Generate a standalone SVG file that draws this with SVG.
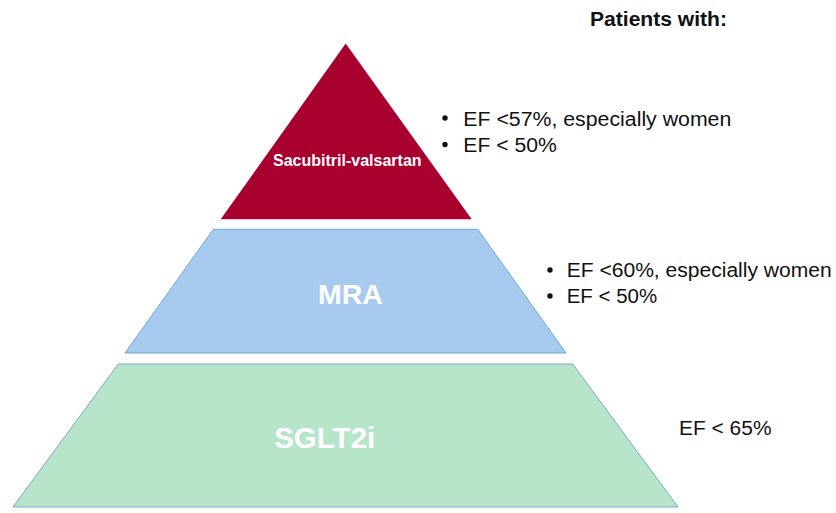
<svg xmlns="http://www.w3.org/2000/svg" width="836" height="513" viewBox="0 0 836 513">
  <style>
    .lvl-label { font-family: "Liberation Sans", Arial, sans-serif; font-weight: bold; fill: #ffffff; text-anchor: middle; }
    .note { font-family: "Liberation Sans", Arial, sans-serif; font-size: 20px; fill: #111111; }
    .head { font-family: "Liberation Sans", Arial, sans-serif; font-size: 20px; font-weight: bold; fill: #111111; }
  </style>
  <rect width="836" height="513" fill="#ffffff"/>

  <!-- Top tier: Sacubitril-valsartan -->
  <g id="tier-sacubitril">
    <polygon points="345.7,43.5 471.7,219.3 220.7,219.3" fill="#A8002F"/>
    <text class="lvl-label" x="347.3" y="166" font-size="16">Sacubitril-valsartan</text>
  </g>

  <!-- Middle tier: MRA -->
  <g id="tier-mra">
    <polygon points="213.3,229.3 477.7,229.3 566,353 125,353" fill="#A6CBEE" stroke="#6FA6DE" stroke-width="1"/>
    <text class="lvl-label" x="350.5" y="304.3" font-size="28.5">MRA</text>
  </g>

  <!-- Bottom tier: SGLT2i -->
  <g id="tier-sglt2i">
    <polygon points="118.3,364 572.7,364 678,507 13,507" fill="#B7E5CA" stroke="#7FA6CF" stroke-width="1"/>
    <text class="lvl-label" x="324.7" y="448.3" font-size="29.5">SGLT2i</text>
  </g>

  <!-- Patient criteria -->
  <g id="header">
    <text class="head" x="590" y="25.5" textLength="137" lengthAdjust="spacingAndGlyphs">Patients with:</text>
  </g>

  <g id="criteria-sacubitril">
    <circle cx="445" cy="118" r="2.7" fill="#111111"/>
    <text class="note" x="463.3" y="125.5" textLength="268" lengthAdjust="spacingAndGlyphs">EF &lt;57%, especially women</text>
    <circle cx="445" cy="144.5" r="2.7" fill="#111111"/>
    <text class="note" x="463.3" y="152" textLength="93.5" lengthAdjust="spacingAndGlyphs">EF &lt; 50%</text>
  </g>

  <g id="criteria-mra">
    <circle cx="550" cy="270" r="2.7" fill="#111111"/>
    <text class="note" x="566.7" y="277" textLength="265" lengthAdjust="spacingAndGlyphs">EF &lt;60%, especially women</text>
    <circle cx="550" cy="296" r="2.7" fill="#111111"/>
    <text class="note" x="566.7" y="302.5" textLength="90.5" lengthAdjust="spacingAndGlyphs">EF &lt; 50%</text>
  </g>

  <g id="criteria-sglt2i">
    <text class="note" x="679" y="435" font-size="21" textLength="92.5" lengthAdjust="spacingAndGlyphs">EF &lt; 65%</text>
  </g>
</svg>
